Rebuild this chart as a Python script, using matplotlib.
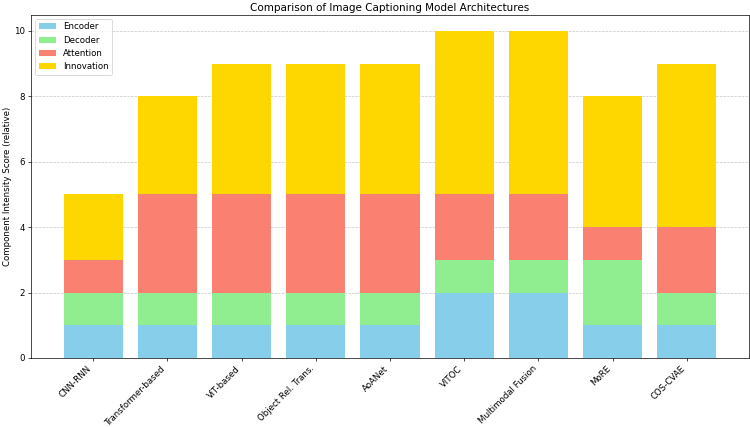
import matplotlib.pyplot as plt
import numpy as np

models = ["CNN-RNN", "Transformer-based", "ViT-based", "Object Rel. Trans.", "AoANet",
          "VITOC", "Multimodal Fusion", "MoRE", "COS-CVAE"]
encoder = [1, 1, 1, 1, 1, 2, 2, 1, 1]
decoder = [1, 1, 1, 1, 1, 1, 1, 2, 1]
attention = [1, 3, 3, 3, 3, 2, 2, 1, 2]
innovation = [2, 3, 4, 4, 4, 5, 5, 4, 5]

x = np.arange(len(models))
enc = np.array(encoder)
dec = np.array(decoder)
att = np.array(attention)

fig, ax = plt.subplots(figsize=(12, 6.832), dpi=62.5)
fig.subplots_adjust(left=0.0413, right=0.9987, top=0.966, bottom=0.1616)

ax.bar(x, encoder, color="skyblue", label="Encoder")
ax.bar(x, decoder, bottom=enc, color="lightgreen", label="Decoder")
ax.bar(x, attention, bottom=enc + dec, color="salmon", label="Attention")
ax.bar(x, innovation, bottom=enc + dec + att, color="gold", label="Innovation")

ax.set_xticks(x)
ax.set_xticklabels(models, rotation=45, ha="right")
ax.set_ylabel("Component Intensity Score (relative)", labelpad=2)
ax.set_title("Comparison of Image Captioning Model Architectures", pad=4)
ax.legend(loc="upper left")
ax.grid(axis="y", linestyle="--", alpha=0.7)
ax.set_axisbelow(True)

plt.savefig("out.png", dpi=62.5)
